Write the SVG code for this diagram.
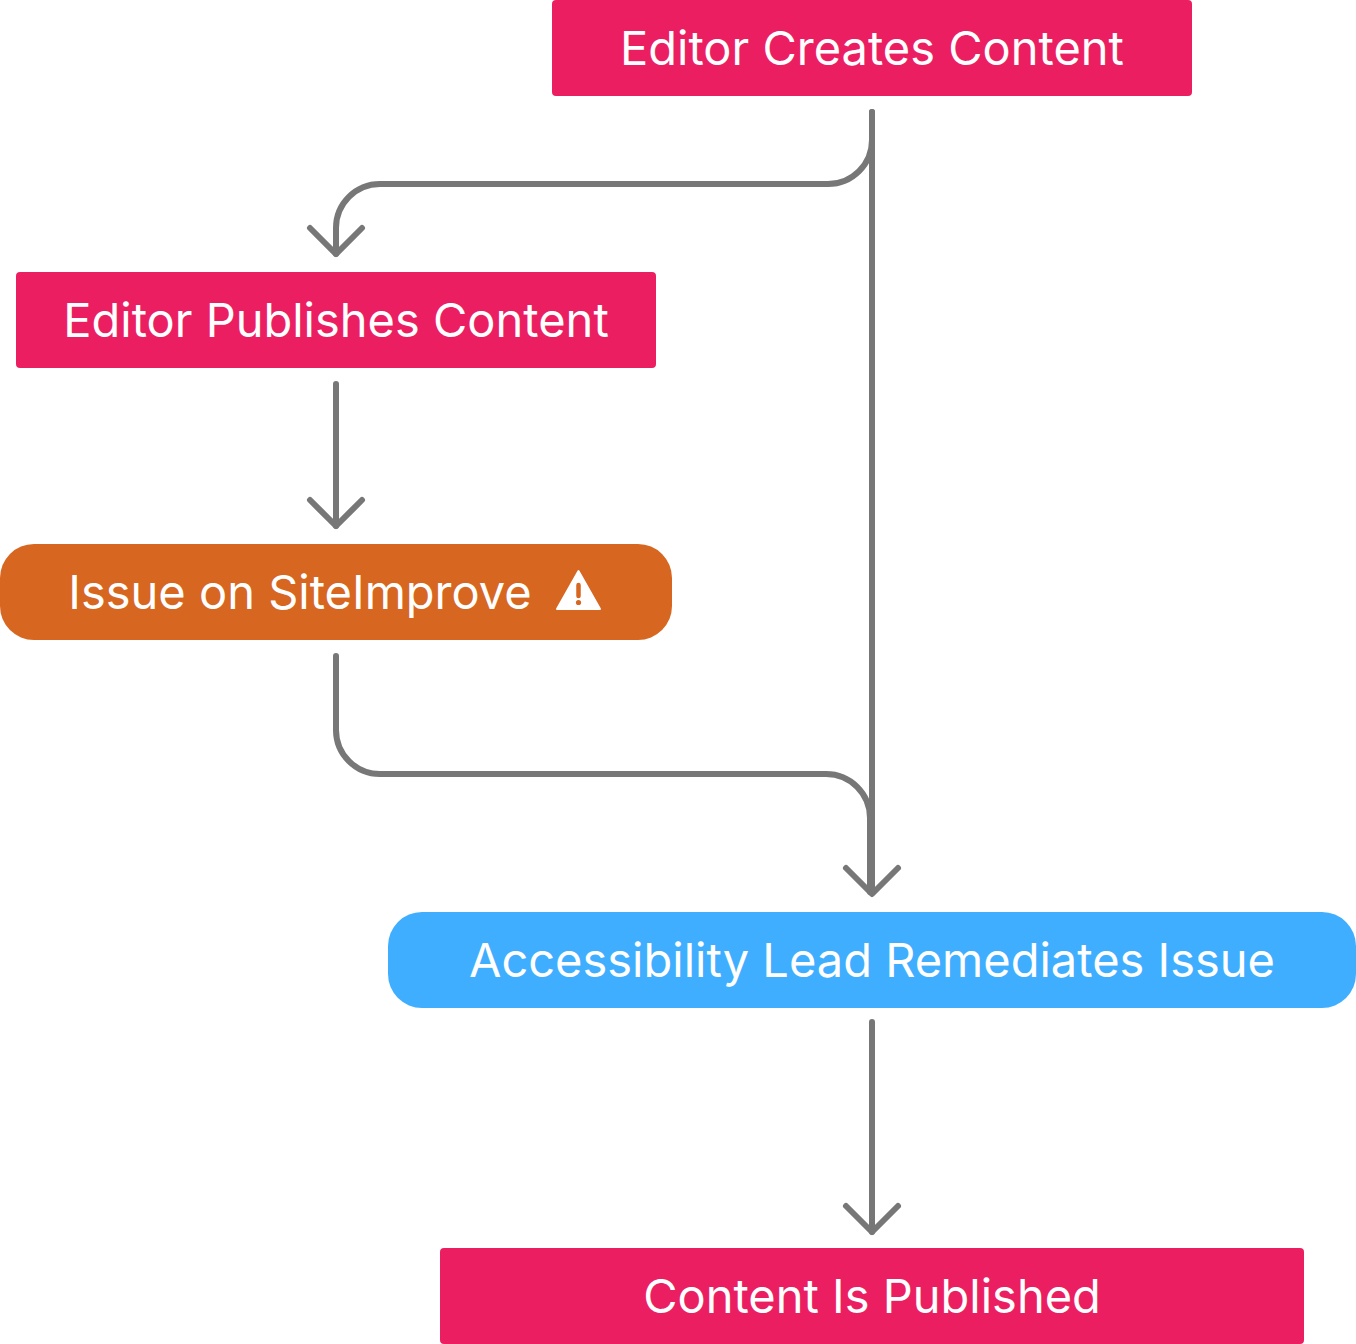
<svg xmlns="http://www.w3.org/2000/svg" width="1356" height="1344" viewBox="0 0 1356 1344">
<style>
.pink{fill:#EC1E62}
.orange{fill:#D76621}
.blue{fill:#3FAEFF}
.lbl{font-family:Inter,"Noto Sans","Liberation Sans",sans-serif;font-size:47px;fill:#FFFFFF;text-anchor:middle}
.edge{fill:none;stroke:#777777;stroke-width:6;stroke-linecap:round;stroke-linejoin:round}
</style>
<rect width="1356" height="1344" fill="#FFFFFF"/>
<g id="connectors">
<path class="edge" d="M872,112 V140 A44,44 0 0 1 828,184 H380 A44,44 0 0 0 336,228 V254"/>
<path class="edge" d="M310,228 L336,254 L362,228"/>
<path class="edge" d="M872,112 V892"/>
<path class="edge" d="M336,384 V526"/>
<path class="edge" d="M310,500 L336,526 L362,500"/>
<path class="edge" d="M336,656 V730 A44,44 0 0 0 380,774 H826 A44,44 0 0 1 870,818 V892"/>
<path class="edge" d="M846,868 L872,894 L898,868"/>
<path class="edge" d="M872,1022 V1232"/>
<path class="edge" d="M846,1206 L872,1232 L898,1206"/>
</g>
<g id="editor-creates">
<rect class="pink" x="552" y="0" width="640" height="96" rx="4"/>
<text class="lbl" x="872" y="65">Editor Creates Content</text>
</g>
<g id="editor-publishes">
<rect class="pink" x="16" y="272" width="640" height="96" rx="4"/>
<text class="lbl" x="336" y="337">Editor Publishes Content</text>
</g>
<g id="issue-siteimprove">
<rect class="orange" x="0" y="544" width="672" height="96" rx="34"/>
<text class="lbl" x="300" y="609">Issue on SiteImprove</text>
<path d="M578.5,571 L600,609 L557,609 Z" fill="#FFFFFF" stroke="#FFFFFF" stroke-width="2" stroke-linejoin="round"/>
<path d="M578.5,585 V596" stroke="#D76621" stroke-width="4.5" stroke-linecap="round"/>
<circle cx="578.5" cy="602.5" r="2.6" fill="#D76621"/>
</g>
<g id="lead-remediates">
<rect class="blue" x="388" y="912" width="968" height="96" rx="34"/>
<text class="lbl" x="872" y="977">Accessibility Lead Remediates Issue</text>
</g>
<g id="content-published">
<rect class="pink" x="440" y="1248" width="864" height="96" rx="4"/>
<text class="lbl" x="872" y="1313">Content Is Published</text>
</g>
</svg>
